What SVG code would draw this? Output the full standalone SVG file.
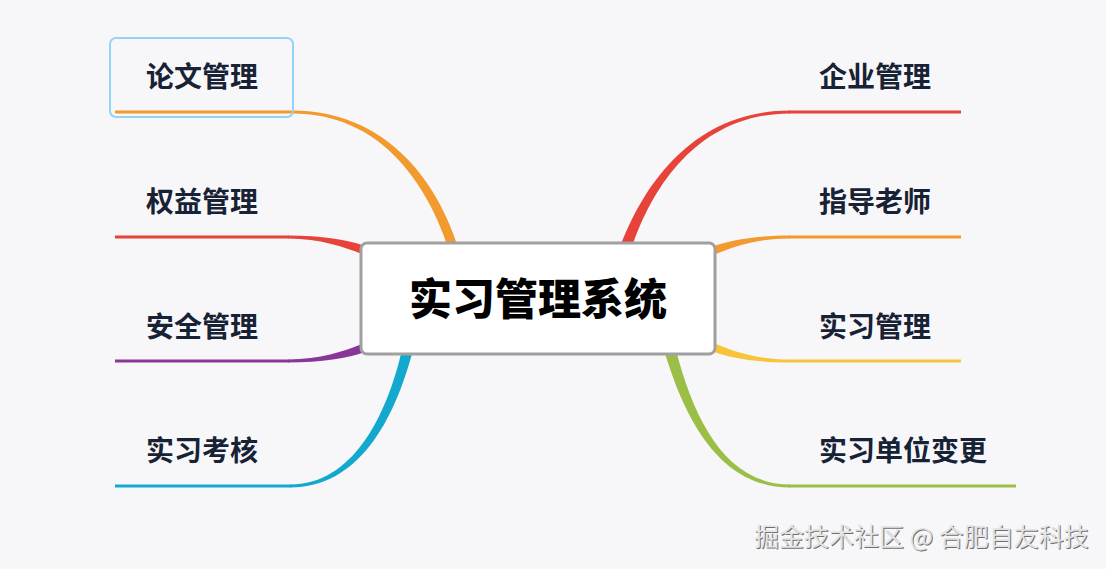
<svg xmlns="http://www.w3.org/2000/svg" width="1106" height="569" viewBox="0 0 1106 569">
<style>
.lbl{font-family:"Noto Sans CJK SC","Noto Sans",sans-serif;font-weight:700;font-size:28px;fill:#172235;text-anchor:middle}
.title{font-family:"Noto Sans CJK SC","Noto Sans",sans-serif;font-weight:900;font-size:43px;fill:#000;text-anchor:middle}
.ln{fill:none;stroke-width:3}
.wm{font-family:"Noto Sans CJK SC","Noto Sans",sans-serif;font-size:25px}
</style>
<rect width="1106" height="569" fill="#f7f7f9"/>
<g id="connectors">
  <path class="ln" stroke="#f39a2f" d="M115 112H293"/>
  <path fill="#f39a2f" d="M292 110.5C384 110.5 436 178 458 247L448 247C426 182 380 113.5 292 113.5Z"/>
  <path class="ln" stroke="#e8433a" d="M115 237H289"/>
  <path fill="#e8433a" d="M288 235.5C322 235.5 348 240 365 246L362 254C344 247 320 238.5 288 238.5Z"/>
  <path class="ln" stroke="#8a3598" d="M115 361H289"/>
  <path fill="#8a3598" d="M288 362.5C322 362.5 348 358 365 352L362 344C344 351 320 359.5 288 359.5Z"/>
  <path class="ln" stroke="#13a9cf" d="M115 486H291"/>
  <path fill="#13a9cf" d="M290 487.5C358 487.5 394 422 413 350L402 350C386 418 352 484.5 290 484.5Z"/>
  <path class="ln" stroke="#e8433a" d="M789 112H961"/>
  <path fill="#e8433a" d="M790 110.5C698 110.5 646 178 620 247L632 247C654 182 702 113.5 790 113.5Z"/>
  <path class="ln" stroke="#f39a2f" d="M789 237H961"/>
  <path fill="#f39a2f" d="M790 235.5C756 235.5 730 240 711 247L714 255C732 247 756 238.5 790 238.5Z"/>
  <path class="ln" stroke="#f8c43a" d="M789 361H961"/>
  <path fill="#f8c43a" d="M790 362.5C756 362.5 730 358 711 351L714 343C732 351 756 359.5 790 359.5Z"/>
  <path class="ln" stroke="#9bbf46" d="M789 486H1016"/>
  <path fill="#9bbf46" d="M790 487.5C722 487.5 686 424 664 350L676 350C694 420 726 484.5 790 484.5Z"/>
</g>
<g id="center">
  <rect x="361" y="243" width="354" height="111" rx="6" fill="#fff" stroke="#a0a0a0" stroke-width="3"/>
  <text class="title" x="538" y="315">实习管理系统</text>
</g>
<g id="n-lunwen">
  <rect x="110" y="38" width="183" height="79" rx="6" fill="none" stroke="#93d4f6" stroke-width="2"/>
  <text class="lbl" x="202" y="87">论文管理</text>
</g>
<g id="n-quanyi"><text class="lbl" x="202" y="212">权益管理</text></g>
<g id="n-anquan"><text class="lbl" x="202" y="337">安全管理</text></g>
<g id="n-kaohe"><text class="lbl" x="202" y="461">实习考核</text></g>
<g id="n-qiye"><text class="lbl" x="875" y="87">企业管理</text></g>
<g id="n-zhidao"><text class="lbl" x="875" y="212">指导老师</text></g>
<g id="n-shixi"><text class="lbl" x="875" y="337">实习管理</text></g>
<g id="n-biangeng"><text class="lbl" x="903" y="461">实习单位变更</text></g>
<g id="watermark">
  <text class="wm" x="755" y="547" fill="#6f6f6f">掘金技术社区 @ 合肥自友科技</text>
  <text class="wm" x="754" y="546" fill="#e4e4e4">掘金技术社区 @ 合肥自友科技</text>
</g>
</svg>
